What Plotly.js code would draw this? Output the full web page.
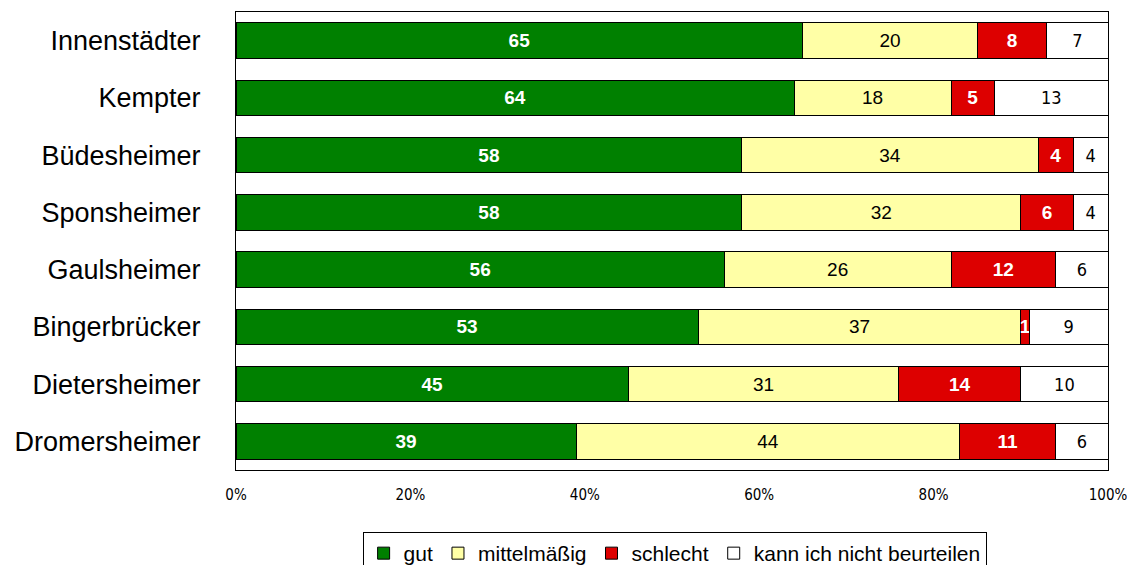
<!DOCTYPE html>
<html><head><meta charset="utf-8">
<script src="https://cdn.plot.ly/plotly-3.0.1.min.js"></script>
<style>body{margin:0;background:#fff}#c{width:1127px;height:565px}</style>
</head><body><div id="c"></div>
<script>
const categories = ["Innenstädter","Kempter","Büdesheimer","Sponsheimer","Gaulsheimer","Bingerbrücker","Dietersheimer","Dromersheimer"];
const gut = [65,64,58,58,56,53,45,39];
const mittel = [20,18,34,32,26,37,31,44];
const schlecht = [8,5,4,6,12,1,14,11];
const kann = [7,13,4,4,6,9,10,6];
const seriesNames = ["gut","mittelmäßig","schlecht","kann ich nicht beurteilen"];
const xTicks = [0,20,40,60,80,100];
const xTickLabels = ["0%","20%","40%","60%","80%","100%"];

const colors = ["#008000","#FFFFA6","#DD0000","#FFFFFF"];
const textFonts = [
  {family:"Liberation Sans, Arial, sans-serif", size:19, color:"#fff", weight:"bold"},
  {family:"Liberation Sans, Arial, sans-serif", size:19, color:"#000"},
  {family:"Liberation Sans, Arial, sans-serif", size:19, color:"#fff", weight:"bold"},
  {family:"DejaVu Sans Condensed, Arial Narrow, sans-serif", size:18, color:"#000"}
];
const data = [gut, mittel, schlecht, kann].map((vals,i)=>({
  type:"bar", orientation:"h", y:categories, x:vals, name:seriesNames[i],
  text:vals.map(String), textposition:"inside", insidetextanchor:"middle",
  textangle:0, constraintext:"none", textfont:textFonts[i],
  marker:{color:colors[i], line:{color:"#000", width:1}},
  hoverinfo:"x+y"
}));

const layout = {
  width:1127, height:565,
  margin:{l:236, r:19, t:12, b:95, autoexpand:false},
  barmode:"stack", bargap:0.38,
  paper_bgcolor:"#fff", plot_bgcolor:"#fff",
  showlegend:true,
  xaxis:{range:[0,100], tickvals:xTicks, ticktext:xTickLabels, showgrid:false, zeroline:false,
    showline:true, mirror:true, linecolor:"#000", linewidth:1, ticks:"", ticklabelstandoff:11,
    ticklabeloverflow:"allow", automargin:false,
    tickfont:{family:"DejaVu Sans Condensed, Arial Narrow, sans-serif", size:15, color:"#000"}, fixedrange:true},
  yaxis:{autorange:"reversed", showgrid:false, zeroline:false, showline:true, mirror:true,
    linecolor:"#000", linewidth:1, ticks:"", ticklabelstandoff:29, automargin:false,
    tickfont:{family:"Liberation Sans, Arial, sans-serif", size:27, color:"#000"}, fixedrange:true},
  legend:{orientation:"h", x:0.503, xanchor:"center", xref:"paper", y:33/565, yref:"container", yanchor:"top",
    bordercolor:"#000", borderwidth:1, bgcolor:"#fff",
    font:{family:"Liberation Sans, Arial, sans-serif", size:21, color:"#000"},
    traceorder:"normal", itemwidth:30}
};
Plotly.newPlot("c", data, layout, {displayModeBar:false, staticPlot:true});
</script></body></html>
